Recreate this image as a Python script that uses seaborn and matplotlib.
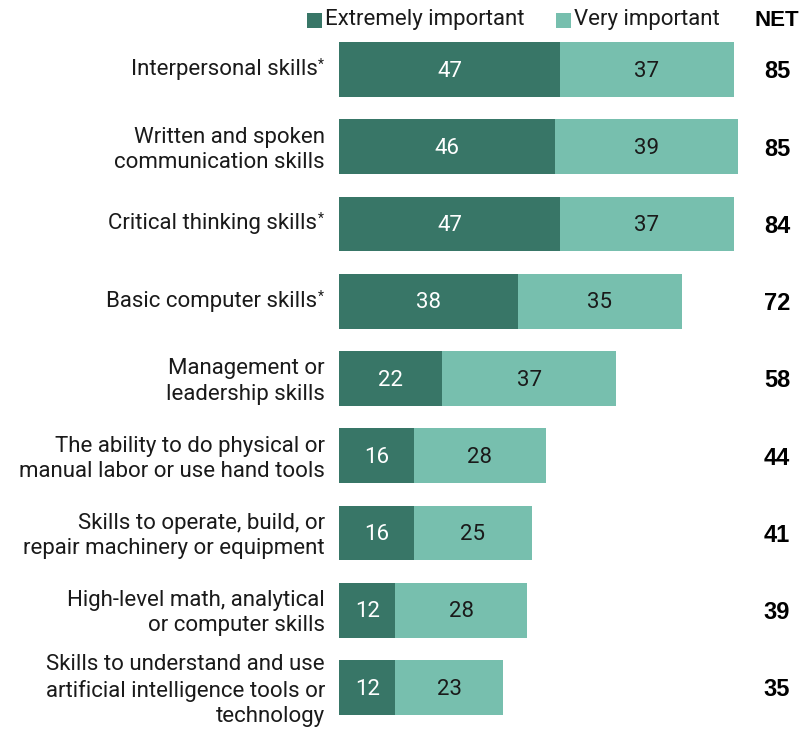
import matplotlib
matplotlib.use("Agg")
import matplotlib.pyplot as plt
import seaborn as sns
import pandas as pd

skills = [
    "Interpersonal skills",
    "Written and spoken\ncommunication skills",
    "Critical thinking skills",
    "Basic computer skills",
    "Management or\nleadership skills",
    "The ability to do physical or\nmanual labor or use hand tools",
    "Skills to operate, build, or\nrepair machinery or equipment",
    "High-level math, analytical\nor computer skills",
    "Skills to understand and use\nartificial intelligence tools or\ntechnology",
]
starred = [True, False, True, True, False, False, False, False, False]
extremely = [47, 46, 47, 38, 22, 16, 16, 12, 12]
very = [37, 39, 37, 35, 37, 28, 25, 28, 23]
net = [85, 85, 84, 72, 58, 44, 41, 39, 35]

DARK = "#387667"
LIGHT = "#77bfae"

sns.set_theme(style="white")
plt.rcParams["font.family"] = ["Roboto", "DejaVu Sans"]

df = pd.DataFrame({
    "skill": skills,
    "extremely": extremely,
    "very": very,
    "total": [e + v for e, v in zip(extremely, very)],
})

W, H = 804, 733
fig = plt.figure(figsize=(W / 100, H / 100), dpi=100)
x0_px = 339
px_per_unit = 4.7
ax = fig.add_axes([x0_px / W, 0, 1 - x0_px / W, 1])

sns.barplot(data=df, y="skill", x="total", color=LIGHT, orient="h",
            width=0.71, linewidth=0, saturation=1, ax=ax)
sns.barplot(data=df, y="skill", x="extremely", color=DARK, orient="h",
            width=0.71, linewidth=0, saturation=1, ax=ax)

row_step = 77.25
row0 = 69.5
ax.set_xlim(0, (W - x0_px) / px_per_unit)
ax.set_ylim((H - row0) / row_step, -row0 / row_step)
ax.axis("off")

fs = 16
lsp = 1.27
bold_fam = ["Liberation Sans", "DejaVu Sans"]
label_x = (325 - x0_px) / px_per_unit
net_x = (777 - x0_px) / px_per_unit
for i, (name, star, e, v, n) in enumerate(zip(skills, starred, extremely, very, net)):
    if star:
        t = ax.text(label_x - 1.6, i, name, ha="right", va="center",
                    fontsize=fs, color="#1a1a1a", linespacing=lsp, clip_on=False)
        ax.annotate("*", xy=(1, 1), xycoords=t, xytext=(0.5, 1),
                    textcoords="offset points", ha="left", va="top",
                    fontsize=10, color="#1a1a1a", annotation_clip=False)
    else:
        ax.text(label_x, i + (0.04 if "\n" in name else 0), name, ha="right",
                va="center", fontsize=fs, color="#1a1a1a", linespacing=lsp,
                clip_on=False)
    ax.text(e / 2, i + 0.02, str(e), ha="center", va="center", fontsize=fs,
            color="white")
    ax.text(e + v / 2, i + 0.02, str(v), ha="center", va="center", fontsize=fs,
            color="#1a1a1a")
    ax.text(net_x, i + 0.03, str(n), ha="center", va="center", fontsize=17,
            fontweight="bold", family=bold_fam, color="black")

# Header row: legend swatches and NET column title
leg_y = 1 - 20 / H
sq = 15
for x_px, col, lab in [(307, DARK, "Extremely important"), (556, LIGHT, "Very important")]:
    fig.patches.append(plt.Rectangle((x_px / W, (H - 28) / H), sq / W, sq / H,
                                     transform=fig.transFigure, color=col, lw=0))
    fig.text((x_px + sq + 3) / W, leg_y, lab, ha="left", va="center",
             fontsize=fs, color="#1a1a1a")
fig.text(777 / W, leg_y, "NET", ha="center", va="center", fontsize=16,
         fontweight="bold", family=bold_fam, color="black")

fig.savefig("out.png", dpi=100)
